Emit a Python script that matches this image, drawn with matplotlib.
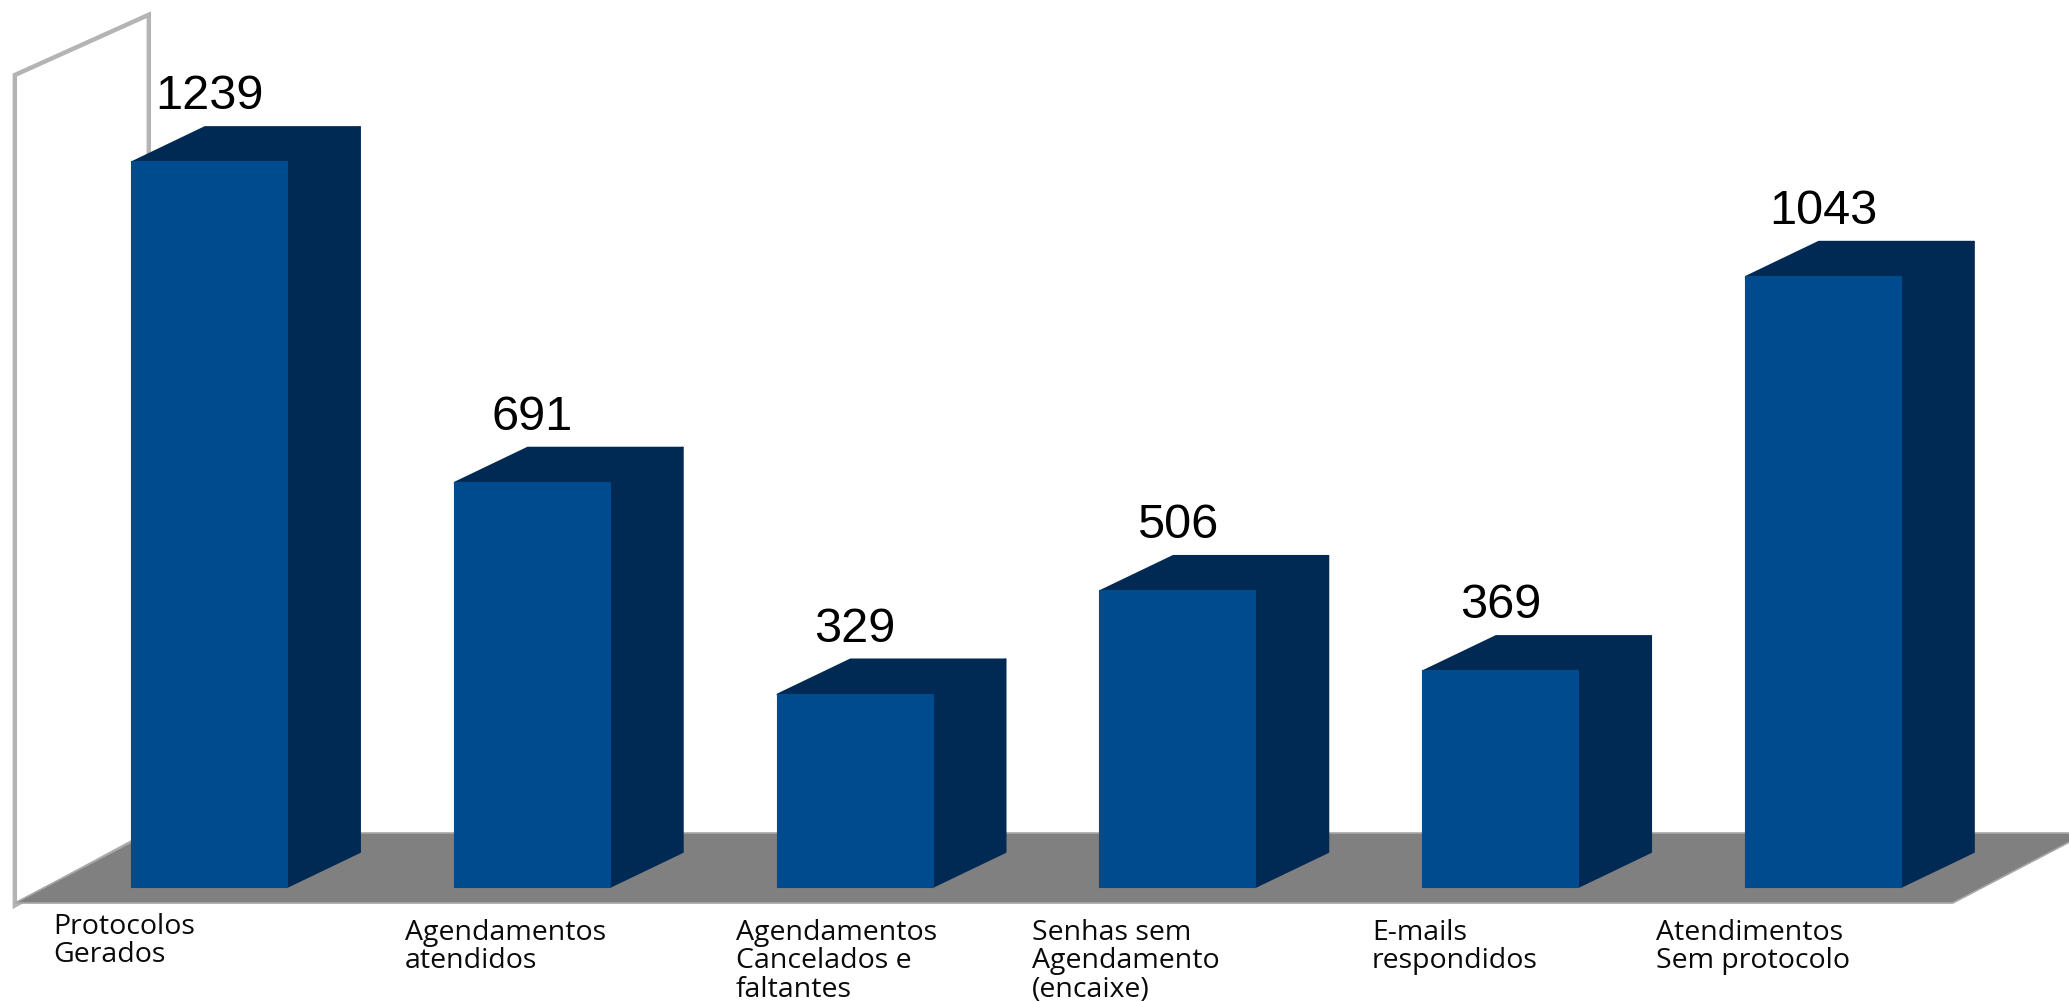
import numpy as np
import matplotlib.pyplot as plt
from matplotlib.patches import Polygon

categorias = ['Protocolos\nGerados', 'Agendamentos\natendidos',
              'Agendamentos\nCancelados e\nfaltantes', 'Senhas sem\nAgendamento\n(encaixe)',
              'E-mails\nrespondidos', 'Atendimentos\nSem protocolo']
valores = [1239, 691, 329, 506, 369, 1043]

W, H = 2069, 1002
frente = '#004a8e'
escuro = '#002a54'
piso = '#808080'
parede = '#b4b4b4'

fig = plt.figure(figsize=(W / 100, H / 100), dpi=100)
ax = fig.add_axes([0, 0, 1, 1])
ax.set_xlim(-0.649, 5.761)
ax.set_ylim(-196.6, 1516.2)
ax.axis('off')

# profundidade do efeito 3d (em unidades dos eixos)
dx, dy = 0.226, 59.8
larg = 0.48
pdx, pdy = 0.415, 119.7

# parede esquerda e piso
xa, xb = -0.603, 5.401
yf = -27.4
ax.add_patch(Polygon([(xa, yf - 4), (xa, 1388), (xa + pdx, 1491), (xa + pdx, yf + pdy)],
                     closed=True, fill=False, edgecolor=parede, lw=3.2, zorder=1))
ax.add_patch(Polygon([(xa, yf), (xb, yf), (xb + pdx, yf + pdy), (xa + pdx, yf + pdy)],
                     closed=True, facecolor=piso, edgecolor='#a8a8a8', lw=1.2, zorder=2))

x = np.arange(len(valores))
for i, v in zip(x, valores):
    l, r = i - larg / 2, i + larg / 2
    lado = Polygon([(r, 0), (r + dx, dy), (r + dx, v + dy), (r, v)], closed=True,
                   facecolor=escuro, edgecolor=escuro, lw=1.5, joinstyle='round', zorder=3)
    topo = Polygon([(l, v), (l + dx, v + dy), (r + dx, v + dy), (r, v)], closed=True,
                   facecolor=escuro, edgecolor=escuro, lw=1.5, joinstyle='round', zorder=3)
    ax.add_patch(lado)
    ax.add_patch(topo)
    ax.text(i, v + dy + 30.8, str(v), ha='center', va='baseline', fontsize=35,
            family='Liberation Sans', color='black', zorder=5)

ax.bar(x, valores, width=larg, color=frente, edgecolor=frente, lw=1.5, zorder=4)

# rótulos das categorias
rot_x = [53, 405, 736, 1032, 1372, 1656]
rot_y = [913, 919, 919, 919, 919, 919]
for txt, px, py in zip(categorias, rot_x, rot_y):
    fig.text(px / W, 1 - py / H, txt, ha='left', va='top', fontsize=20.5,
             family='Open Sans', linespacing=1.02, color='#0a0a0a')

fig.savefig('out.png', dpi=100)
